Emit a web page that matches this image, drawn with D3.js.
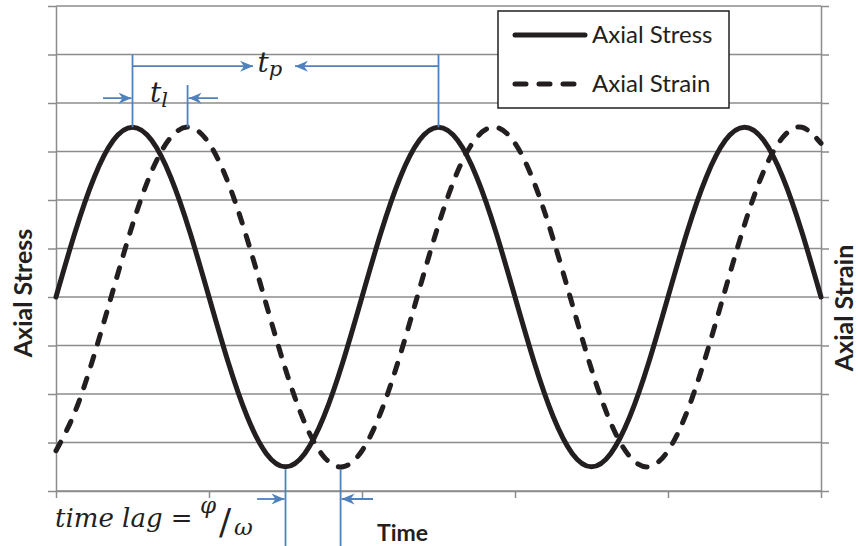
<!doctype html>
<html>
<head>
<meta charset="UTF-8">
<title>Axial Stress / Axial Strain</title>
<script src="https://cdn.jsdelivr.net/npm/d3@7"></script>
<style>
  body { margin: 0; background: #fff; }
  .grid line, .axis .domain, .axis .tick line { stroke: #8c8c8c; stroke-width: 1.5; }
  .note { stroke: #4f81bd; stroke-width: 1.8; fill: none; }
</style>
</head>
<body>
<svg id="chart" width="858" height="546"></svg>
<script>
// sample times (x axis units) and the two curves
var time = [0, 0.125, 0.25, 0.375, 0.5, 0.625, 0.75, 0.875, 1, 1.125, 1.25, 1.375, 1.5, 1.625, 1.75, 1.875,
            2, 2.125, 2.25, 2.375, 2.5, 2.625, 2.75, 2.875, 3, 3.125, 3.25, 3.375, 3.5, 3.625, 3.75, 3.875,
            4, 4.125, 4.25, 4.375, 4.5, 4.625, 4.75, 4.875, 5];
var stress = [4, 5.34, 6.47, 7.23, 7.5, 7.23, 6.47, 5.34, 4, 2.66, 1.53, 0.77, 0.5, 0.77, 1.53, 2.66,
              4, 5.34, 6.47, 7.23, 7.5, 7.23, 6.47, 5.34, 4, 2.66, 1.53, 0.77, 0.5, 0.77, 1.53, 2.66,
              4, 5.34, 6.47, 7.23, 7.5, 7.23, 6.47, 5.34, 4];
var strain = [0.83, 1.64, 2.81, 4.16, 5.49, 6.59, 7.29, 7.5, 7.17, 6.36, 5.19, 3.84, 2.51, 1.41, 0.71, 0.5,
              0.83, 1.64, 2.81, 4.16, 5.49, 6.59, 7.29, 7.5, 7.17, 6.36, 5.19, 3.84, 2.51, 1.41, 0.71, 0.5,
              0.83, 1.64, 2.81, 4.16, 5.49, 6.59, 7.29, 7.5, 7.17];
var seriesNames = ["Axial Stress", "Axial Strain"];
var xTicks = [0, 1, 2, 3, 4, 5];
var yTicks = [0, 1, 2, 3, 4, 5, 6, 7, 8, 9, 10];

// annotation points (data units)
var stressPeaks = [0.5, 2.5];
var strainPeak = 0.86;
var stressTrough = 1.5;
var strainTrough = 1.86;

var svg = d3.select("#chart"),
    margin = {top: 6, right: 37, bottom: 55, left: 56},
    width = +svg.attr("width") - margin.left - margin.right,
    height = +svg.attr("height") - margin.top - margin.bottom,
    g = svg.append("g").attr("transform", "translate(" + margin.left + "," + margin.top + ")");

var x = d3.scaleLinear().domain([0, 5]).range([0, width]),
    y = d3.scaleLinear().domain([0, 10]).range([height, 0]);

var blue = "#4f81bd", ink = "#231f20";

// arrow head
svg.append("defs").append("marker")
    .attr("id", "arrow")
    .attr("viewBox", "-13 -6 13 12")
    .attr("refX", 0).attr("refY", 0)
    .attr("markerWidth", 13).attr("markerHeight", 12)
    .attr("markerUnits", "userSpaceOnUse")
    .attr("orient", "auto")
  .append("path")
    .attr("d", "M0,0L-13,-5.5L-9,0L-13,5.5Z")
    .attr("fill", blue);

// gridlines
g.append("g").attr("class", "grid")
  .selectAll("line").data(yTicks).enter().append("line")
    .attr("x1", 0).attr("x2", width)
    .attr("y1", function(d) { return y(d); })
    .attr("y2", function(d) { return y(d); });

// axes (no labels, only ticks)
g.append("g").attr("class", "axis")
    .call(d3.axisLeft(y).tickValues(yTicks).tickSize(8).tickSizeOuter(0).tickFormat(""));
g.append("g").attr("class", "axis")
    .attr("transform", "translate(" + width + ",0)")
    .call(d3.axisRight(y).tickValues(yTicks).tickSize(8).tickSizeOuter(0).tickFormat(""));
g.append("g").attr("class", "axis")
    .attr("transform", "translate(0," + height + ")")
    .call(d3.axisBottom(x).tickValues(xTicks).tickSize(7).tickSizeOuter(0).tickFormat(""));

// curves
var line = d3.line()
    .curve(d3.curveNatural)
    .x(function(d) { return x(d.t); })
    .y(function(d) { return y(d.v); });

var series = [
  {name: seriesNames[0], values: time.map(function(t, i) { return {t: t, v: stress[i]}; }), dash: null},
  {name: seriesNames[1], values: time.map(function(t, i) { return {t: t, v: strain[i]}; }), dash: "10,13"}
];

g.selectAll(".curve").data(series).enter().append("path")
    .attr("class", "curve")
    .attr("d", function(d) { return line(d.values); })
    .attr("fill", "none")
    .attr("stroke", ink)
    .attr("stroke-width", 5)
    .attr("stroke-linecap", "round")
    .attr("stroke-dasharray", function(d) { return d.dash; });

// annotations
var notes = g.append("g");
function seg(x1, y1, x2, y2, arrow) {
  var l = notes.append("line").attr("class", "note")
    .attr("x1", x1).attr("y1", y1).attr("x2", x2).attr("y2", y2);
  if (arrow) l.attr("marker-end", "url(#arrow)");
}
// period t_p
stressPeaks.forEach(function(p) { seg(x(p), y(9), x(p), y(7.5)); });
seg(x(stressPeaks[0]), y(8.76), x(1.288), y(8.76), true);
seg(x(stressPeaks[1]), y(8.76), x(1.562), y(8.76), true);
// lag t_l
seg(x(strainPeak), y(8.37), x(strainPeak), y(7.5));
seg(x(0.307), y(8.1), x(stressPeaks[0]) - 1, y(8.1), true);
seg(x(1.059), y(8.1), x(strainPeak) + 1, y(8.1), true);
// lag at the troughs
seg(x(stressTrough), y(0.45), x(stressTrough), 546 - margin.top);
seg(x(strainTrough), y(0.45), x(strainTrough), 546 - margin.top);
seg(x(1.314), y(-0.165), x(stressTrough) - 1, y(-0.165), true);
seg(x(2.072), y(-0.165), x(strainTrough) + 1, y(-0.165), true);

var math = {"font-family": "DejaVu Serif", "font-style": "italic", "fill": "#231f20"};
function mtext(px, py, size, parts) {
  var t = svg.append("text").attr("x", px).attr("y", py).attr("font-size", size);
  for (var k in math) t.attr(k, math[k]);
  parts.forEach(function(p) {
    var s = t.append("tspan").text(p.s);
    if (p.x != null) s.attr("x", p.x);
    if (p.y != null) s.attr("y", p.y);
    if (p.dy) s.attr("dy", p.dy);
    if (p.size) s.attr("font-size", p.size);
    if (p.upright) s.attr("font-style", "normal");
  });
  return t;
}
mtext(margin.left + x(1.35) - 5, margin.top + y(8.63), 28, [{s: "t"}, {s: "p", dy: 4, size: 21}]);
mtext(margin.left + x(0.634) - 3, margin.top + y(8.02), 28, [{s: "t"}, {s: "l", dy: 5, size: 21}]);
mtext(55, 527, 26, [
  {s: "time lag "}, {s: "=", upright: true},
  {s: "\u03c6", x: 200, y: 513, size: 23},
  {s: "/", x: 219, y: 534, size: 36, upright: true},
  {s: "\u03c9", x: 234, y: 535, size: 23}
]);

// axis titles
var label = {"font-family": "Lato", "font-weight": "bold", "fill": "#231f20"};
function addLabel(t, size) { for (var k in label) t.attr(k, label[k]); return t.attr("font-size", size); }
addLabel(svg.append("text").attr("x", 377).attr("y", 541).text("Time"), 23);
addLabel(svg.append("text").attr("transform", "translate(32,293) rotate(-90)")
    .attr("text-anchor", "middle").text(seriesNames[0]), 25);
addLabel(svg.append("text").attr("transform", "translate(853,308) rotate(-90)")
    .attr("text-anchor", "middle").text(seriesNames[1]), 25);

// legend
var legend = svg.append("g").attr("transform", "translate(498,11)");
legend.append("rect")
    .attr("width", 231).attr("height", 97)
    .attr("fill", "#fff").attr("stroke", ink).attr("stroke-width", 1.5);
var item = legend.selectAll(".legend").data(series).enter().append("g")
    .attr("class", "legend")
    .attr("transform", function(d, i) { return "translate(0," + (24 + i * 49) + ")"; });
item.append("line")
    .attr("x1", 17).attr("x2", function(d) { return d.dash ? 79 : 87; })
    .attr("stroke", ink).attr("stroke-width", 5).attr("stroke-linecap", "round")
    .attr("stroke-dasharray", function(d) { return d.dash ? "11,13" : null; });
item.append("text")
    .attr("x", 94).attr("y", 8)
    .attr("font-family", "Lato").attr("font-size", 24).attr("fill", ink)
    .text(function(d) { return d.name; });
</script>
</body>
</html>
